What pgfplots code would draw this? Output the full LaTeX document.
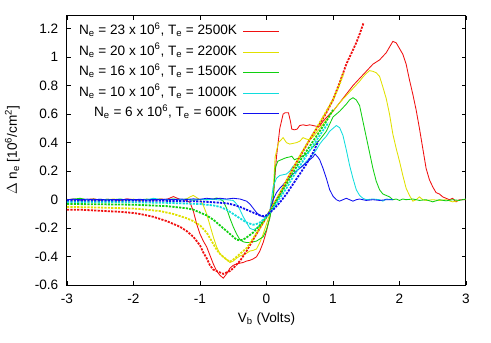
\documentclass[border=0pt]{standalone}
\usepackage{pgfplots}
\pgfplotsset{compat=1.18}
\usepackage{fontspec}
\setmainfont{Liberation Sans}
\definecolor{cR}{HTML}{F01010}
\definecolor{cY}{HTML}{E0E000}
\definecolor{cG}{HTML}{10D010}
\definecolor{cC}{HTML}{10DDDD}
\definecolor{cB}{HTML}{1010F0}
\newcommand{\ent}[2]{N\textsubscript{e} = #1 x 10\textsuperscript{6}, T\textsubscript{e} = #2K}
\newcommand{\ff}{\fontsize{13.6}{15}\selectfont}
\begin{document}
\ff
\begin{tikzpicture}
\begin{axis}[
  scale only axis, width=399pt, height=269.6pt,
  xmin=-3, xmax=3, ymin=-0.6, ymax=1.29,
  xtick={-3,-2,-1,0,1,2,3},
  xticklabels={-3,-2,-1,0,1,2,3},
  ytick={-0.6,-0.4,-0.2,0,0.2,0.4,0.6,0.8,1,1.2},
  yticklabels={-0.6,-0.4,-0.2,0,0.2,0.4,0.6,0.8,1,1.2},
  tick align=inside, major tick length=4pt,
  tick style={black, line width=0.8pt},
  axis line style={line width=1pt},
  /pgf/number format/assume math mode=true,
  tick label style={font=\ff},
  label style={font=\ff},
  xticklabel style={yshift=-4pt},
  yticklabel style={xshift=-4pt},
  xlabel={V\textsubscript{b} (Volts)},
  ylabel={$\Delta$ n\textsubscript{e} [10\textsuperscript{6}/cm\textsuperscript{2}]},
  xlabel style={at={(axis description cs:0.5,-0.126)}, anchor=center},
  ylabel style={at={(axis description cs:-0.137,0.5)}, anchor=center},
  legend plot pos=right,
  legend cell align=right,
  legend image code/.code={\draw[#1] (0,0) -- (36pt,0);},
  legend style={draw=none, fill=none, at={(axis description cs:0.534,0.974)}, anchor=north east,
    inner sep=0pt, column sep=4pt, row sep=3.6pt, font=\ff,
    nodes={text height=9.5pt, text depth=3.5pt, inner sep=2pt}},
  every axis plot/.append style={line width=0.85pt},
  clip=true,
]
\coordinate (SW) at (rel axis cs:0,0);
% solid curves
\addplot[cR] coordinates {(-3,0)(-2.9,0.005)(-2.8,-0.004)(-2.7,0.002)(-2.6,0.006)(-2.5,-0.003)(-2.4,0.003)(-2.3,0)(-2.2,-0.005)(-2.1,0.006)(-2.0,0.0)(-1.9,-0.004)(-1.8,0.003)(-1.7,-0.002)(-1.6,0.005)(-1.5,0.002)(-1.45,0.012)(-1.4,0.022)(-1.35,0.012)(-1.3,0.002)(-1.25,0.0)(-1.2,-0.005)(-1.15,-0.02)(-1.1,-0.08)(-1.05,-0.17)(-1.0,-0.24)(-0.95,-0.29)(-0.9,-0.33)(-0.85,-0.39)(-0.8,-0.45)(-0.75,-0.5)(-0.7,-0.53)(-0.65,-0.55)(-0.6,-0.52)(-0.55,-0.48)(-0.5,-0.46)(-0.45,-0.45)(-0.4,-0.445)(-0.35,-0.44)(-0.3,-0.43)(-0.25,-0.425)(-0.2,-0.415)(-0.15,-0.4)(-0.1,-0.36)(-0.05,-0.3)(0,-0.22)(0.05,-0.12)(0.1,0.0)(0.15,0.3)(0.2,0.5)(0.25,0.6)(0.28,0.61)(0.33,0.61)(0.36,0.55)(0.38,0.495)(0.42,0.49)(0.46,0.495)(0.5,0.52)(0.55,0.525)(0.6,0.52)(0.65,0.525)(0.7,0.52)(0.75,0.515)(0.8,0.515)(0.85,0.55)(0.9,0.575)(0.95,0.6)(1.0,0.62)(1.1,0.68)(1.2,0.74)(1.3,0.8)(1.4,0.85)(1.5,0.9)(1.6,0.95)(1.7,0.98)(1.8,1.03)(1.85,1.07)(1.9,1.11)(1.95,1.1)(2.0,1.06)(2.05,1.02)(2.1,0.95)(2.15,0.84)(2.2,0.74)(2.25,0.63)(2.3,0.5)(2.35,0.36)(2.4,0.22)(2.45,0.14)(2.5,0.09)(2.55,0.05)(2.6,0.04)(2.65,0.02)(2.7,0.01)(2.75,0.0)(2.8,0.01)(2.85,-0.015)(2.9,0.0)(2.95,0.0)(3.0,0.0)};
\addlegendentry{\ent{23}{2500}}
\addplot[cY] coordinates {(-3,0.003)(-2.9,-0.002)(-2.8,0.004)(-2.7,0.0)(-2.6,-0.004)(-2.5,0.003)(-2.4,0.0)(-2.3,0.005)(-2.2,-0.002)(-2.1,0.0)(-2.0,0.004)(-1.9,-0.003)(-1.8,0.002)(-1.7,0.0)(-1.6,0.004)(-1.5,-0.002)(-1.4,0.002)(-1.3,0.0)(-1.2,0.005)(-1.15,0.02)(-1.1,0.03)(-1.05,0.015)(-1.0,0.0)(-0.95,-0.04)(-0.9,-0.1)(-0.85,-0.18)(-0.8,-0.26)(-0.75,-0.33)(-0.7,-0.38)(-0.65,-0.4)(-0.6,-0.42)(-0.55,-0.44)(-0.5,-0.43)(-0.45,-0.41)(-0.4,-0.395)(-0.35,-0.385)(-0.3,-0.375)(-0.25,-0.36)(-0.2,-0.355)(-0.15,-0.345)(-0.1,-0.3)(-0.05,-0.24)(0,-0.17)(0.05,-0.1)(0.1,0.05)(0.13,0.3)(0.18,0.4)(0.25,0.435)(0.3,0.4)(0.35,0.39)(0.45,0.4)(0.5,0.41)(0.55,0.435)(0.6,0.425)(0.65,0.42)(0.7,0.44)(0.75,0.47)(0.8,0.5)(0.9,0.56)(1.0,0.62)(1.1,0.68)(1.2,0.73)(1.3,0.78)(1.4,0.83)(1.45,0.86)(1.5,0.885)(1.55,0.905)(1.6,0.9)(1.65,0.89)(1.7,0.865)(1.75,0.79)(1.8,0.71)(1.85,0.6)(1.9,0.46)(1.95,0.36)(2.0,0.27)(2.05,0.17)(2.1,0.08)(2.15,0.03)(2.2,-0.01)(2.25,0.0)(2.3,0.02)(2.35,0.0)(2.4,-0.005)(2.5,0.0)(2.6,-0.005)(2.7,0.0)(2.8,-0.015)(2.9,-0.005)};
\addlegendentry{\ent{20}{2200}}
\addplot[cG] coordinates {(-3,0.0)(-2.9,0.004)(-2.8,0.01)(-2.7,0.0)(-2.6,0.004)(-2.5,-0.002)(-2.4,0.003)(-2.3,0.0)(-2.2,0.005)(-2.1,-0.003)(-2.0,0.002)(-1.9,0.0)(-1.8,0.004)(-1.7,-0.002)(-1.6,0.003)(-1.5,0.0)(-1.4,0.005)(-1.3,0.0)(-1.2,0.004)(-1.1,-0.003)(-1.0,0.003)(-0.9,0.0)(-0.8,0.005)(-0.75,0.012)(-0.7,0.005)(-0.65,-0.01)(-0.6,-0.06)(-0.55,-0.13)(-0.5,-0.19)(-0.45,-0.24)(-0.4,-0.28)(-0.35,-0.295)(-0.3,-0.3)(-0.25,-0.3)(-0.2,-0.295)(-0.15,-0.29)(-0.1,-0.275)(-0.05,-0.26)(0,-0.21)(0.05,-0.13)(0.1,0.0)(0.13,0.22)(0.17,0.27)(0.22,0.28)(0.27,0.29)(0.3,0.295)(0.35,0.3)(0.38,0.305)(0.42,0.28)(0.47,0.29)(0.52,0.3)(0.6,0.32)(0.7,0.37)(0.8,0.42)(0.9,0.48)(1.0,0.58)(1.05,0.6)(1.1,0.62)(1.15,0.645)(1.2,0.67)(1.25,0.7)(1.3,0.715)(1.35,0.7)(1.4,0.66)(1.45,0.55)(1.5,0.44)(1.55,0.33)(1.6,0.22)(1.65,0.13)(1.7,0.07)(1.75,0.04)(1.8,0.03)(1.85,0.02)(1.9,0.0)(1.95,0.005)(2.0,-0.005)(2.05,0.005)(2.1,0.0)(2.2,0.005)(2.3,-0.005)(2.4,0.0)(2.5,-0.015)(2.6,0.0)(2.7,-0.008)(2.8,0.0)(2.9,-0.005)(3.0,0.005)};
\addlegendentry{\ent{16}{1500}}
\addplot[cC] coordinates {(-3,0.0)(-2.9,0.003)(-2.8,-0.002)(-2.7,0.002)(-2.6,0.0)(-2.5,0.003)(-2.4,-0.002)(-2.3,0.0)(-2.2,0.003)(-2.1,0.0)(-2.0,-0.002)(-1.9,0.002)(-1.8,0.0)(-1.7,0.01)(-1.6,0.002)(-1.5,0.0)(-1.4,0.004)(-1.3,0.0)(-1.2,0.003)(-1.1,-0.002)(-1.0,0.002)(-0.9,0.0)(-0.8,0.003)(-0.7,-0.002)(-0.6,0.0)(-0.5,-0.005)(-0.45,-0.03)(-0.4,-0.07)(-0.35,-0.12)(-0.3,-0.16)(-0.25,-0.2)(-0.2,-0.21)(-0.15,-0.2)(-0.1,-0.18)(-0.05,-0.15)(0,-0.12)(0.05,-0.08)(0.1,0.09)(0.15,0.15)(0.2,0.17)(0.25,0.175)(0.3,0.18)(0.35,0.2)(0.4,0.235)(0.45,0.245)(0.5,0.22)(0.55,0.24)(0.6,0.27)(0.65,0.29)(0.7,0.32)(0.75,0.35)(0.8,0.39)(0.85,0.42)(0.9,0.445)(0.95,0.48)(1.0,0.5)(1.05,0.52)(1.1,0.505)(1.15,0.45)(1.2,0.35)(1.25,0.24)(1.3,0.15)(1.35,0.07)(1.4,0.03)(1.45,0.01)(1.5,0.0)(1.6,0.005)(1.7,0.0)(1.75,-0.01)(1.8,0.005)(1.9,0.0)};
\addlegendentry{\ent{10}{1000}}
\addplot[cB] coordinates {(-3,0.0)(-2.9,0.003)(-2.8,0.0)(-2.7,0.004)(-2.6,0.0)(-2.5,0.003)(-2.4,-0.002)(-2.3,0.002)(-2.2,0.0)(-2.1,0.003)(-2.0,0.0)(-1.9,0.003)(-1.8,-0.002)(-1.7,0.002)(-1.6,0.0)(-1.5,0.004)(-1.4,0.0)(-1.3,0.005)(-1.2,0.002)(-1.1,0.006)(-1.0,0.003)(-0.9,0.01)(-0.8,0.005)(-0.7,0.01)(-0.6,0.005)(-0.5,0.01)(-0.4,0.005)(-0.3,-0.01)(-0.25,-0.03)(-0.2,-0.06)(-0.15,-0.09)(-0.1,-0.11)(-0.05,-0.12)(0,-0.12)(0.05,-0.08)(0.1,0.0)(0.15,0.05)(0.2,0.08)(0.25,0.105)(0.3,0.13)(0.35,0.16)(0.4,0.18)(0.45,0.2)(0.5,0.22)(0.55,0.24)(0.6,0.26)(0.65,0.28)(0.7,0.3)(0.73,0.32)(0.77,0.3)(0.8,0.28)(0.85,0.22)(0.9,0.15)(0.95,0.07)(1.0,0.025)(1.05,0.0)(1.1,-0.01)(1.15,0.0)(1.2,0.01)(1.25,0.0)(1.3,-0.01)(1.35,0.0)(1.4,0.005)(1.5,-0.005)(1.6,0.0)(1.7,-0.005)(1.8,0.0)(1.9,0.0)};
\addlegendentry{\ent{6}{600}}
% dashed (theory) curves
\addplot[cR, line width=1.8pt, dash pattern=on 2.2pt off 1.2pt, forget plot] coordinates {(-3,-0.07)(-2.8,-0.07)(-2.6,-0.075)(-2.4,-0.08)(-2.2,-0.085)(-2.0,-0.093)(-1.9,-0.1)(-1.8,-0.11)(-1.7,-0.12)(-1.6,-0.135)(-1.5,-0.15)(-1.4,-0.17)(-1.3,-0.19)(-1.2,-0.22)(-1.1,-0.26)(-1.0,-0.32)(-0.95,-0.37)(-0.9,-0.41)(-0.85,-0.46)(-0.8,-0.49)(-0.75,-0.5)(-0.7,-0.51)(-0.65,-0.52)(-0.6,-0.51)(-0.55,-0.5)(-0.5,-0.48)(-0.4,-0.43)(-0.3,-0.36)(-0.2,-0.28)(-0.1,-0.2)(0,-0.12)(0.1,-0.04)(0.2,0.04)(0.3,0.13)(0.4,0.22)(0.5,0.3)(0.6,0.38)(0.7,0.46)(0.8,0.53)(0.9,0.61)(1.0,0.7)(1.1,0.82)(1.2,0.95)(1.3,1.05)(1.35,1.1)(1.4,1.16)(1.46,1.24)};
\addplot[cY, line width=1.8pt, dash pattern=on 2.2pt off 1.2pt, forget plot] coordinates {(-3,-0.05)(-2.5,-0.055)(-2.0,-0.062)(-1.8,-0.07)(-1.6,-0.08)(-1.4,-0.1)(-1.2,-0.13)(-1.1,-0.15)(-1.0,-0.18)(-0.9,-0.23)(-0.85,-0.27)(-0.8,-0.31)(-0.75,-0.35)(-0.7,-0.38)(-0.65,-0.4)(-0.6,-0.42)(-0.55,-0.435)(-0.5,-0.42)(-0.45,-0.4)(-0.4,-0.38)(-0.3,-0.34)(-0.2,-0.27)(-0.1,-0.2)(0,-0.12)(0.1,-0.04)(0.2,0.045)(0.3,0.135)(0.4,0.22)(0.5,0.305)(0.6,0.385)(0.7,0.46)(0.8,0.54)(0.9,0.62)(1.0,0.7)(1.1,0.81)(1.16,0.89)};
\addplot[cG, line width=1.8pt, dash pattern=on 2.2pt off 1.2pt, forget plot] coordinates {(-3,-0.03)(-2.5,-0.032)(-2.0,-0.035)(-1.5,-0.045)(-1.2,-0.06)(-1.1,-0.07)(-1.0,-0.09)(-0.9,-0.11)(-0.8,-0.14)(-0.7,-0.18)(-0.6,-0.22)(-0.5,-0.26)(-0.45,-0.28)(-0.4,-0.285)(-0.35,-0.28)(-0.3,-0.265)(-0.2,-0.23)(-0.1,-0.18)(0,-0.12)(0.1,-0.05)(0.2,0.03)(0.3,0.11)(0.4,0.19)(0.5,0.27)(0.6,0.34)(0.7,0.41)(0.8,0.48)(0.9,0.55)(1.0,0.63)};
\addplot[cC, line width=1.8pt, dash pattern=on 2.2pt off 1.2pt, forget plot] coordinates {(-3,-0.015)(-2.5,-0.015)(-2.0,-0.018)(-1.5,-0.022)(-1.0,-0.03)(-0.8,-0.04)(-0.7,-0.05)(-0.6,-0.07)(-0.5,-0.1)(-0.4,-0.13)(-0.3,-0.16)(-0.2,-0.175)(-0.15,-0.17)(-0.1,-0.16)(0,-0.12)(0.1,-0.06)(0.2,0.01)(0.3,0.08)(0.4,0.16)(0.5,0.235)(0.6,0.31)(0.7,0.38)(0.8,0.45)(0.93,0.54)};
\addplot[cB, line width=1.8pt, dash pattern=on 2.2pt off 1.2pt, forget plot] coordinates {(-3,-0.005)(-2.5,-0.005)(-2.0,-0.006)(-1.5,-0.008)(-1.0,-0.012)(-0.8,-0.018)(-0.6,-0.025)(-0.5,-0.035)(-0.4,-0.05)(-0.3,-0.07)(-0.2,-0.09)(-0.1,-0.11)(-0.05,-0.115)(0,-0.11)(0.1,-0.07)(0.2,-0.02)(0.3,0.04)(0.4,0.11)(0.5,0.18)(0.6,0.25)(0.7,0.33)(0.78,0.41)};
\end{axis}
\pgfresetboundingbox
\path[use as bounding box] (SW) ++(-67pt,-57.7pt) rectangle ++(491pt,343pt);
\end{tikzpicture}
\end{document}
